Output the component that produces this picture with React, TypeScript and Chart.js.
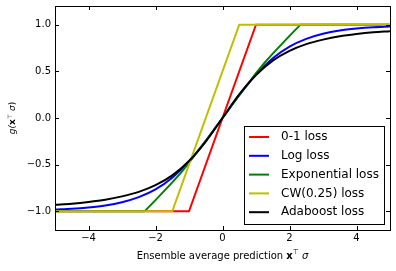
import React, { useEffect, useRef } from "react";
import { Chart, registerables } from "chart.js";

Chart.register(...registerables);

// ---- data ----
const curveX = [-5, -4.5, -4, -3.5, -3, -2.5, -2, -1.5, -1, -0.5, 0, 0.5, 1, 1.5, 2, 2.5, 3, 3.5, 4, 4.5, 5];
const logLoss = [-0.98, -0.972, -0.958, -0.937, -0.902, -0.848, -0.765, -0.64, -0.465, -0.245, 0, 0.245, 0.465, 0.64, 0.765, 0.848, 0.902, 0.937, 0.958, 0.972, 0.98];
const adaboostLoss = [-0.93, -0.918, -0.9, -0.876, -0.84, -0.792, -0.72, -0.615, -0.46, -0.252, 0, 0.252, 0.46, 0.615, 0.72, 0.792, 0.84, 0.876, 0.9, 0.918, 0.93];
const zeroOneX = [-5, -1, 1, 5];
const zeroOneLoss = [-1, -1, 1, 1];
const cwX = [-5, -1.5, 0.5, 5];
const cwLoss = [-1, -1, 1, 1];
const expX = [-5, -2.33, -2, -1.5, -1.25, -1, -0.75, -0.5, -0.25, 0, 0.25, 0.5, 0.75, 1, 1.25, 1.5, 2, 2.33, 5];
const expLoss = [-1, -1, -0.88, -0.69, -0.59, -0.48, -0.36, -0.245, -0.123, 0, 0.123, 0.245, 0.36, 0.48, 0.59, 0.69, 0.88, 1, 1];

const seriesLabels = ["0-1 loss", "Log loss", "Exponential loss", "CW(0.25) loss", "Adaboost loss"];
const seriesColors = ["#ff0000", "#0000ff", "#008000", "#bfbf00", "#000000"];

const xTicks = [-4, -2, 0, 2, 4];
const xTickLabels = ["\u22124", "\u22122", "0", "2", "4"];
const yTicks = [-1, -0.5, 0, 0.5, 1];
const yTickLabels = ["\u22121.0", "\u22120.5", "0.0", "0.5", "1.0"];

const FONT = "'DejaVu Sans', sans-serif";

function pts(xs: number[], ys: number[]) {
  return xs.map((x, i) => ({ x, y: ys[i] }));
}

const decorPlugin = {
  id: "decor",
  afterDatasetsDraw(chart: any) {
    const ctx = chart.ctx as CanvasRenderingContext2D;
    const { left, right, top, bottom } = chart.chartArea;
    const xs = chart.scales.x;
    const ys = chart.scales.y;
    ctx.save();
    // frame
    ctx.strokeStyle = "#000";
    ctx.lineWidth = 1;
    ctx.strokeRect(Math.round(left) + 0.5, Math.round(top) + 0.5, Math.round(right - left), Math.round(bottom - top));
    // ticks
    const tl = 4;
    ctx.beginPath();
    xTicks.forEach((v) => {
      const px = Math.round(xs.getPixelForValue(v)) + 0.5;
      ctx.moveTo(px, bottom);
      ctx.lineTo(px, bottom - tl);
      ctx.moveTo(px, top);
      ctx.lineTo(px, top + tl);
    });
    yTicks.forEach((v) => {
      const py = Math.round(ys.getPixelForValue(v)) + 0.5;
      ctx.moveTo(left, py);
      ctx.lineTo(left + tl, py);
      ctx.moveTo(right, py);
      ctx.lineTo(right - tl, py);
    });
    ctx.stroke();
    // tick labels
    ctx.fillStyle = "#000";
    ctx.font = `10px ${FONT}`;
    ctx.textAlign = "center";
    ctx.textBaseline = "top";
    xTicks.forEach((v, i) => {
      ctx.fillText(xTickLabels[i], xs.getPixelForValue(v), bottom + 3);
    });
    ctx.textAlign = "right";
    ctx.textBaseline = "middle";
    yTicks.forEach((v, i) => {
      ctx.fillText(yTickLabels[i], left - 4, ys.getPixelForValue(v));
    });
    // x title
    const segs = [
      { t: "Ensemble average prediction ", f: `10px ${FONT}`, dy: 0 },
      { t: "x", f: `bold 10px ${FONT}`, dy: 0 },
      { t: "\u22a4", f: `7px ${FONT}`, dy: -4 },
      { t: " \u03c3", f: `italic 10px ${FONT}`, dy: 0 },
    ];
    const drawSegs = (cx: number, cy: number, sgs: any[]) => {
      let w = 0;
      sgs.forEach((s) => {
        ctx.font = s.f;
        w += ctx.measureText(s.t).width;
      });
      let x = cx - w / 2;
      ctx.textAlign = "left";
      ctx.textBaseline = "middle";
      sgs.forEach((s) => {
        ctx.font = s.f;
        ctx.fillText(s.t, x, cy + s.dy);
        x += ctx.measureText(s.t).width;
      });
    };
    drawSegs((left + right) / 2, bottom + 26, segs);
    // y title
    ctx.save();
    ctx.translate(13, (top + bottom) / 2);
    ctx.rotate(-Math.PI / 2);
    drawSegs(0, 0, [
      { t: "g(", f: `italic 9px ${FONT}`, dy: 0 },
      { t: "x", f: `bold 9px ${FONT}`, dy: 0 },
      { t: "\u22a4", f: `6px ${FONT}`, dy: -3 },
      { t: " \u03c3", f: `italic 9px ${FONT}`, dy: 0 },
      { t: ")", f: `9px ${FONT}`, dy: 0 },
    ]);
    ctx.restore();
    // legend
    const lw = 140;
    const lh = 98;
    const lx = Math.round(right - 6 - lw);
    const ly = Math.round(bottom - 6 - lh);
    ctx.fillStyle = "#fff";
    ctx.fillRect(lx, ly, lw, lh);
    ctx.strokeStyle = "#000";
    ctx.lineWidth = 1;
    ctx.strokeRect(lx + 0.5, ly + 0.5, lw, lh);
    ctx.font = `12px ${FONT}`;
    ctx.textAlign = "left";
    ctx.textBaseline = "middle";
    chart.data.datasets.forEach((ds: any, i: number) => {
      const ry = ly + 11 + i * 18.8;
      ctx.strokeStyle = ds.borderColor;
      ctx.lineWidth = 2;
      ctx.beginPath();
      ctx.moveTo(lx + 5, ry);
      ctx.lineTo(lx + 25, ry);
      ctx.stroke();
      ctx.fillStyle = "#000";
      ctx.fillText(ds.label, lx + 37, ry);
    });
    ctx.restore();
  },
};

export default function App() {
  const ref = useRef<HTMLCanvasElement | null>(null);
  useEffect(() => {
    document.body.style.margin = "0";
    if (!ref.current) return;
    const dataX = [zeroOneX, curveX, expX, cwX, curveX];
    const dataY = [zeroOneLoss, logLoss, expLoss, cwLoss, adaboostLoss];
    const smooth = [false, true, false, false, true];
    const chart = new Chart(ref.current, {
      type: "line",
      data: {
        datasets: seriesLabels.map((label, i) => ({
          label,
          data: pts(dataX[i], dataY[i]),
          borderColor: seriesColors[i],
          backgroundColor: seriesColors[i],
          borderWidth: 2,
          pointRadius: 0,
          fill: false,
          cubicInterpolationMode: smooth[i] ? "monotone" : "default",
          order: 5 - i,
        })) as any,
      },
      options: {
        animation: false,
        responsive: false,
        devicePixelRatio: 1,
        layout: { padding: { left: 55, right: 6, top: 6, bottom: 41 } },
        plugins: { legend: { display: false }, tooltip: { enabled: false } },
        scales: {
          x: { type: "linear", min: -5, max: 5, display: false },
          y: { type: "linear", min: -1.2, max: 1.2, display: false },
        },
      },
      plugins: [decorPlugin],
    });
    return () => chart.destroy();
  }, []);
  return <canvas ref={ref} width={396} height={271} style={{ display: "block" }} />;
}
